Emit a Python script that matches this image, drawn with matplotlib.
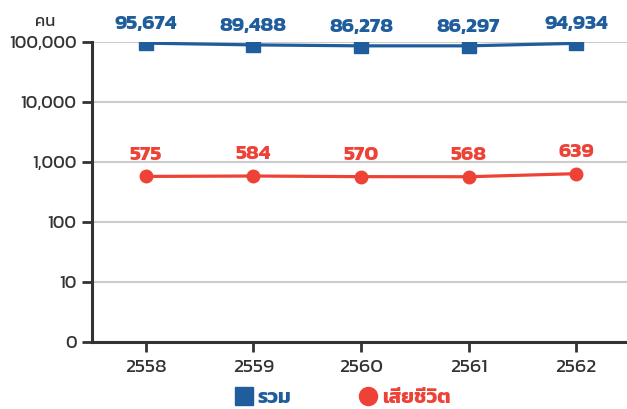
import matplotlib
matplotlib.use('Agg')
import matplotlib.pyplot as plt
from matplotlib.lines import Line2D
from matplotlib.ticker import FixedLocator, FixedFormatter

plt.rcParams['font.family'] = ['Kanit', 'DejaVu Sans']

# ข้อมูล
years = ['2558', '2559', '2560', '2561', '2562']
total = [95674, 89488, 86278, 86297, 94934]
deaths = [575, 584, 570, 568, 639]
ytick_vals = [1, 10, 100, 1000, 10000, 100000]
ytick_labels = ['0', '10', '100', '1,000', '10,000', '100,000']

blue = '#1f5d9c'
red = '#ef4237'
dark = '#333333'

fig = plt.figure(figsize=(6.27, 4.09), dpi=100)
ax = fig.add_axes([92 / 627, 1 - 342 / 409, (630 - 92) / 627, 300 / 409])

x = range(len(years))
ax.plot(x, total, color=blue, lw=2.3, marker='s', ms=10, zorder=3)
ax.plot(x, deaths, color=red, lw=2.3, marker='o', ms=9, zorder=3)

# ป้ายตัวเลขเหนือจุด
for i, v in enumerate(total):
    ax.annotate(f'{v:,}', (i, v), xytext=(0, 10), textcoords='offset points',
                ha='center', va='baseline', color=blue, fontsize=15, fontweight='bold')
for i, v in enumerate(deaths):
    ax.annotate(f'{v:,}', (i, v), xytext=(0, 12), textcoords='offset points',
                ha='center', va='baseline', color=red, fontsize=15, fontweight='bold')

ax.set_yscale('log')
ax.set_ylim(1, 100000)
ax.set_xlim(-0.5, 4.5)
ax.yaxis.set_major_locator(FixedLocator(ytick_vals))
ax.yaxis.set_major_formatter(FixedFormatter(ytick_labels))
ax.yaxis.set_minor_locator(FixedLocator([]))
ax.set_xticks(list(x))
ax.set_xticklabels(years)
ax.grid(axis='y', color='#cccccc', lw=1.5)
ax.set_axisbelow(True)

for s in ['top', 'right']:
    ax.spines[s].set_visible(False)
for s in ['left', 'bottom']:
    ax.spines[s].set_color(dark)
    ax.spines[s].set_linewidth(2.2)
ax.tick_params(axis='both', colors=dark, length=7, width=2)
ax.tick_params(axis='x', labelsize=14, pad=5)
ax.tick_params(axis='y', labelsize=13, pad=4)

fig.text(45 / 627, 1 - 26 / 409, 'คน', ha='center', va='baseline',
         fontsize=12, color=dark)

# คำอธิบายด้านล่าง
handles = [Line2D([], [], ls='none', marker='s', ms=13, color=blue),
           Line2D([], [], ls='none', marker='o', ms=13, color=red)]
leg = fig.legend(handles, ['รวม', 'เสียชีวิต'], loc='center',
                 bbox_to_anchor=(342 / 627, 1 - 398 / 409), ncol=2, frameon=False,
                 columnspacing=3.3, handlelength=1.0, handletextpad=0.2,
                 borderaxespad=0, borderpad=0,
                 prop={'family': ['Kanit'], 'weight': 'bold', 'size': 14.5})
for t, c in zip(leg.get_texts(), [blue, red]):
    t.set_color(c)

fig.savefig('out.png', dpi=100)
